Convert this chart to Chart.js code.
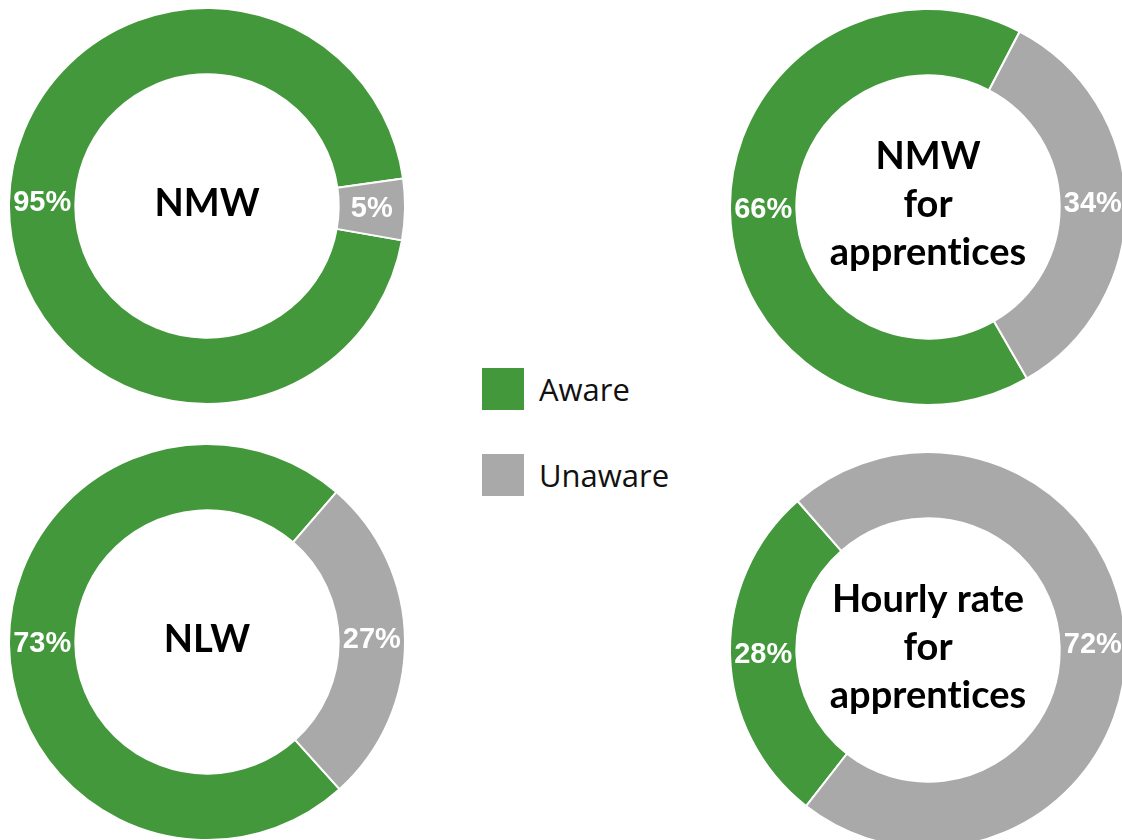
<!DOCTYPE html>
<html lang="en">
<head>
    <meta charset="UTF-8">
    <title>Awareness of NMW / NLW</title>
    <script src="https://cdn.jsdelivr.net/npm/chart.js"></script>
    <style>
        html, body { margin: 0; padding: 0; background: #fff; overflow: hidden; }
        body { width: 1122px; height: 840px; position: relative; }
        .donut { position: absolute; width: 398px; height: 398px; }
        .legend { position: absolute; left: 482px; top: 368px; font-family: "Open Sans", sans-serif; font-size: 31px; color: #111; }
        .legend-item { display: flex; align-items: center; height: 42px; margin-bottom: 44px; }
        .legend-box { width: 42px; height: 42px; margin-right: 15px; }
    </style>
</head>
<body>
    <div class="donut" style="left:8px; top:7px;"><canvas id="c0" width="398" height="398"></canvas></div>
    <div class="donut" style="left:729px; top:8px;"><canvas id="c1" width="398" height="398"></canvas></div>
    <div class="donut" style="left:8px; top:443px;"><canvas id="c2" width="398" height="398"></canvas></div>
    <div class="donut" style="left:729px; top:451px;"><canvas id="c3" width="398" height="398"></canvas></div>
    <div class="legend" id="legend"></div>

    <script>
        // data
        const categories = ['Aware', 'Unaware'];
        const chartTitles = [
            ['NMW'],
            ['NMW', 'for', 'apprentices'],
            ['NLW'],
            ['Hourly rate', 'for', 'apprentices']
        ];
        const awareValues = [95, 66, 73, 28];
        const unawareValues = [5, 34, 27, 72];

        const colors = ['#43983b', '#a9a9a9'];
        const rotations = [100, 150, 138, 218];

        // white % labels in the middle of each slice
        const sliceLabels = {
            id: 'sliceLabels',
            afterDatasetsDraw(chart) {
                const ctx = chart.ctx;
                const meta = chart.getDatasetMeta(0);
                const values = chart.data.datasets[0].data;
                ctx.save();
                ctx.font = 'bold 29px "Liberation Sans", Arial, sans-serif';
                ctx.fillStyle = '#ffffff';
                ctx.textAlign = 'center';
                ctx.textBaseline = 'middle';
                meta.data.forEach((arc, i) => {
                    const p = arc.tooltipPosition();
                    ctx.fillText(values[i] + '%', p.x, p.y);
                });
                ctx.restore();
            }
        };

        // title in the hole
        const centerTitle = {
            id: 'centerTitle',
            afterDraw(chart, args, opts) {
                const ctx = chart.ctx;
                const lines = opts.lines || [];
                const cx = (chart.chartArea.left + chart.chartArea.right) / 2;
                const cy = (chart.chartArea.top + chart.chartArea.bottom) / 2;
                ctx.save();
                ctx.font = 'bold 38px Lato, "Open Sans", sans-serif';
                if ('letterSpacing' in ctx) ctx.letterSpacing = '0.01px'; // no "ti" ligature
                ctx.fillStyle = '#000000';
                ctx.textAlign = 'center';
                ctx.textBaseline = 'alphabetic';
                lines.forEach((line, i) => {
                    const y = cy + 10 + (i - (lines.length - 1) / 2) * 48;
                    ctx.fillText(line, cx, y);
                });
                ctx.restore();
            }
        };

        function makeDonut(idx) {
            const ctx = document.getElementById('c' + idx).getContext('2d');
            return new Chart(ctx, {
                type: 'doughnut',
                data: {
                    labels: categories,
                    datasets: [{
                        data: [awareValues[idx], unawareValues[idx]],
                        backgroundColor: colors,
                        borderColor: '#ffffff',
                        borderWidth: 2,
                        hoverOffset: 0,
                        offset: 0
                    }]
                },
                options: {
                    responsive: false,
                    animation: false,
                    events: [],
                    cutout: '66.5%',
                    rotation: rotations[idx],
                    layout: { padding: 0 },
                    plugins: {
                        legend: { display: false },
                        tooltip: { enabled: false },
                        centerTitle: { lines: chartTitles[idx] }
                    }
                },
                plugins: [sliceLabels, centerTitle]
            });
        }

        for (let i = 0; i < 4; i++) makeDonut(i);

        // legend
        const legend = document.getElementById('legend');
        categories.forEach((name, i) => {
            const item = document.createElement('div');
            item.className = 'legend-item';
            item.innerHTML = `<div class="legend-box" style="background:${colors[i]}"></div><span>${name}</span>`;
            legend.appendChild(item);
        });
    </script>
</body>
</html>
